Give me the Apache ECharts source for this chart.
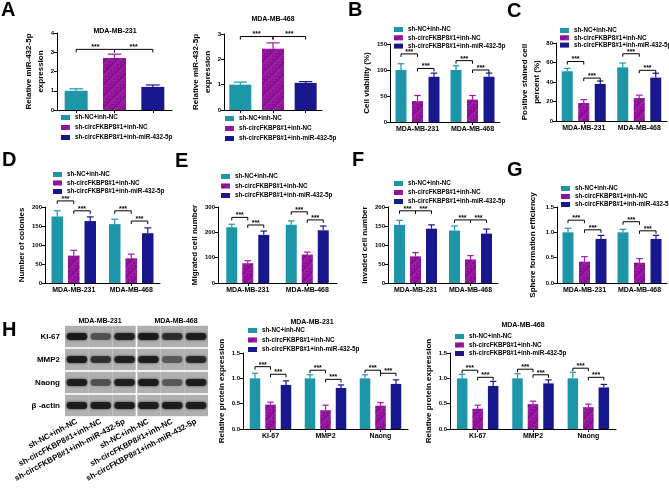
<!DOCTYPE html>
<html><head><meta charset="utf-8">
<script src="https://cdn.jsdelivr.net/npm/echarts@6/dist/echarts.min.js"></script>
<style>html,body{margin:0;padding:0;background:#fff}#c{width:669px;height:491px}</style>
</head><body><div id="c"></div>
<script>
// ---------- data ----------
const groups = ['sh-NC+inh-NC', 'sh-circFKBP8#1+inh-NC', 'sh-circFKBP8#1+inh-miR-432-5p'];
const cells = ['MDA-MB-231', 'MDA-MB-468'];
const proteins = ['KI-67', 'MMP2', 'Naong'];
const colors = ['#1d97a7', '#a21aa9', '#17178e'];

// A: relative miR-432-5p expression (one bar per group)
const a231Mean = [1.0, 2.7, 1.2];
const a231Err  = [1.1, 2.9, 1.3];
const a231Sig  = [[3.15, 3.15]];
const a468Mean = [1.0, 2.42, 1.07];
const a468Err  = [1.1, 2.65, 1.12];
const a468Sig  = [[2.9, 2.9]];

// B: cell viability (group x cell line)
const bMean = [[100, 100], [40, 43], [87, 87]];
const bErr  = [[112, 108], [51, 51], [94, 94]];
const bSig  = [[131, 103], [118, 100]];
// C: positive stained cell percent
const cMean = [[51, 55], [18.5, 23.5], [38, 44.5]];
const cErr  = [[54, 59.5], [22, 26.5], [41, 49]];
const cSig  = [[61, 44], [69, 52]];
// D: number of colonies
const dMean = [[175, 155], [72, 65], [163, 131]];
const dErr  = [[190, 168], [86, 76], [174, 145]];
const dSig  = [[216, 190], [190, 163]];
// E: migrated cell number
const eMean = [[220, 230], [78, 112], [190, 208]];
const eErr  = [[232, 245], [88, 122], [205, 225]];
const eSig  = [[259, 229], [281, 249]];
// F: invaded cell number
const fMean = [[153, 138], [70, 62], [143, 130]];
const fErr  = [[165, 150], [80, 72], [153, 142]];
const fSig  = [[190, 190], [166, 166]];
// G: sphere formation efficiency
const gMean = [[1.0, 1.0], [0.42, 0.40], [0.87, 0.87]];
const gErr  = [[1.08, 1.06], [0.52, 0.48], [0.94, 0.94]];
const gSig  = [[1.24, 1.05], [1.21, 1.03]];
// H: relative protein expression (group x protein)
const h231Mean = [[1.0, 1.0, 1.0], [0.48, 0.37, 0.46], [0.87, 0.81, 0.89]];
const h231Err  = [[1.1, 1.07, 1.07], [0.53, 0.47, 0.52], [0.95, 0.87, 0.97]];
const h231Sig  = [[1.23, 1.08], [1.16, 0.98], [1.16, 1.10]];
const h468Mean = [[1.0, 1.0, 1.0], [0.40, 0.49, 0.43], [0.85, 0.90, 0.82]];
const h468Err  = [[1.08, 1.09, 1.12], [0.47, 0.55, 0.49], [0.94, 0.97, 0.88]];
const h468Sig  = [[1.16, 1.02], [1.18, 1.07], [1.20, 1.02]];

// H: western blot lanes / rows / band intensities
const blotLanes = groups.concat(groups);
const blotRows = ['KI-67', 'MMP2', 'Naong', 'β -actin'];
const blotIntensity = [
  [1.0, 0.45, 0.9, 1.0, 0.75, 0.95],
  [0.95, 0.7, 0.9, 0.95, 0.4, 0.8],
  [0.95, 0.45, 0.9, 1.0, 0.4, 0.95],
  [0.95, 0.95, 0.95, 0.95, 0.95, 0.95]
];

// ---------- build ----------
const FONT = 'Liberation Sans, Arial, sans-serif';
const DECAL = {symbol: 'rect', symbolSize: 1, dashArrayX: [[2, 2], [0, 2, 2]], dashArrayY: [2, 0], rotation: Math.PI / 4, color: 'rgba(70,0,85,0.35)'};
const opt = {animation: false, backgroundColor: '#fff', grid: [], xAxis: [], yAxis: [], series: [], legend: [], graphic: []};

function txt(text, x, y, size, align) {
  opt.graphic.push({type: 'text', x: x, y: y, silent: true, style: {text: text, font: 'bold ' + size + 'px ' + FONT, fill: '#000', align: align || 'center', verticalAlign: 'middle'}});
}

function panel(p) {
  const gi = opt.grid.length;
  const single = !!p.single;
  opt.grid.push({left: p.left, top: p.top, width: p.width, height: p.height, outerBoundsMode: 'none', containLabel: false});
  opt.xAxis.push({type: 'category', gridIndex: gi, data: single ? groups : p.cats,
    axisLine: {lineStyle: {color: '#000', width: 1}},
    axisTick: {show: true, alignWithLabel: true, length: 3, lineStyle: {color: '#000'}},
    axisLabel: {show: !single, fontSize: 7, fontWeight: 'bold', color: '#000', margin: 4, fontFamily: FONT, interval: 0}});
  opt.yAxis.push({type: 'value', gridIndex: gi, min: 0, max: p.max, interval: p.interval,
    name: p.yName, nameLocation: 'middle', nameGap: p.nameGap, nameRotate: 90,
    nameTextStyle: {fontSize: 8, fontWeight: 'bold', color: '#000', fontFamily: FONT, lineHeight: 12},
    axisLine: {show: true, lineStyle: {color: '#000', width: 1}},
    axisTick: {show: true, length: 3, lineStyle: {color: '#000'}},
    splitLine: {show: false},
    axisLabel: {fontSize: 6, fontWeight: 'bold', color: '#000', margin: 3, fontFamily: FONT,
      formatter: p.dec ? (v => v.toFixed(1)) : (v => String(v))}});
  const bw = p.barW, gap = p.gap || 0, step = bw + gap;
  groups.forEach((g, k) => {
    const data = single ? groups.map((_, j) => j === k ? p.mean[k] : '-') : p.mean[k];
    opt.series.push({type: 'bar', name: g, xAxisIndex: gi, yAxisIndex: gi, data: data, barWidth: bw,
      barGap: single ? '-100%' : (gap / bw * 100) + '%', silent: true, z: 2,
      itemStyle: {color: colors[k], decal: k === 1 ? DECAL : null}});
  });
  // error bars
  const errData = [];
  groups.forEach((g, k) => {
    if (single) errData.push([k, p.mean[k], p.err[k], 0, k]);
    else p.mean[k].forEach((m, c) => errData.push([c, m, p.err[k][c], (k - 1) * step, k]));
  });
  opt.series.push({type: 'custom', xAxisIndex: gi, yAxisIndex: gi, data: errData, z: 3, silent: true,
    renderItem: (params, api) => {
      const a = api.coord([api.value(0), api.value(1)]);
      const b = api.coord([api.value(0), api.value(2)]);
      const x = a[0] + api.value(3), col = colors[api.value(4)], cw = Math.max(2.5, bw * 0.3);
      return {type: 'group', children: [
        {type: 'line', shape: {x1: x, y1: a[1], x2: x, y2: b[1]}, style: {stroke: col, lineWidth: 1.2}},
        {type: 'line', shape: {x1: x - cw, y1: b[1], x2: x + cw, y2: b[1]}, style: {stroke: col, lineWidth: 1.2}}]};
    }});
  // significance brackets
  const sigData = [];
  p.sig.forEach((pair, c) => pair.forEach((h, j) => {
    if (single) sigData.push([j, h, j + 1, 0, 0]);
    else sigData.push([c, h, c, (j - 1) * step, j * step]);
  }));
  opt.series.push({type: 'custom', xAxisIndex: gi, yAxisIndex: gi, data: sigData, z: 4, silent: true,
    renderItem: (params, api) => {
      const a = api.coord([api.value(0), api.value(1)]);
      const b = api.coord([api.value(2), api.value(1)]);
      const xl = a[0] + api.value(3), xr = b[0] + api.value(4), y = a[1];
      return {type: 'group', children: [
        {type: 'polyline', shape: {points: [[xl, y + 3], [xl, y], [xr, y], [xr, y + 3]]}, style: {stroke: '#000', lineWidth: 1, fill: null}},
        {type: 'text', style: {text: '***', x: (xl + xr) / 2, y: y + 1.5, align: 'center', verticalAlign: 'bottom', font: 'bold 7px ' + FONT, fill: '#000'}}]};
    }});
  opt.legend.push({left: p.legLeft, top: p.legTop, orient: 'vertical', padding: 0, itemWidth: 9, itemHeight: 5,
    itemGap: p.legGap, selectedMode: false, icon: 'rect', data: groups,
    textStyle: {fontSize: 6.3, fontWeight: 'bold', color: '#000', fontFamily: FONT, lineHeight: 7}});
  if (p.title) txt(p.title, p.titleX, p.titleY, 7);
}

const relMir = 'Relative miR-432-5p\nexpression';
panel({single: true, left: 57, top: 33, width: 115, height: 77, max: 4, interval: 1, yName: relMir, nameGap: 9,
  barW: 23, mean: a231Mean, err: a231Err, sig: a231Sig, legLeft: 61, legTop: 114, legGap: 3,
  title: 'MDA-MB-231', titleX: 115, titleY: 31});
panel({single: true, left: 224, top: 34, width: 98, height: 76, max: 3, interval: 1, yName: relMir, nameGap: 9,
  barW: 22, mean: a468Mean, err: a468Err, sig: a468Sig, legLeft: 225, legTop: 115, legGap: 3,
  title: 'MDA-MB-468', titleX: 273, titleY: 19});
panel({left: 390, top: 44, width: 110, height: 78, max: 150, interval: 50, yName: 'Cell viability (%)', nameGap: 12,
  cats: cells, barW: 11, gap: 5.5, mean: bMean, err: bErr, sig: bSig, legLeft: 394, legTop: 26, legGap: 1.3});
panel({left: 556, top: 43, width: 111, height: 78, max: 80, interval: 20, yName: 'Positive stained cell\npercent (%)', nameGap: 9,
  cats: cells, barW: 11, gap: 5.5, mean: cMean, err: cErr, sig: cSig, legLeft: 560, legTop: 27, legGap: 0.3});
panel({left: 45, top: 207, width: 115, height: 76, max: 200, interval: 50, yName: 'Number of colonies', nameGap: 12,
  cats: cells, barW: 11.5, gap: 5, mean: dMean, err: dErr, sig: dSig, legLeft: 53, legTop: 171, legGap: 1.5});
panel({left: 218, top: 207, width: 119, height: 76, max: 300, interval: 100, yName: 'Migrated cell number', nameGap: 15,
  cats: cells, barW: 11, gap: 5, mean: eMean, err: eErr, sig: eSig, legLeft: 221, legTop: 173, legGap: 2.5});
panel({left: 388, top: 207, width: 110, height: 76, max: 200, interval: 50, yName: 'Invaded cell number', nameGap: 15,
  cats: cells, barW: 11, gap: 5, mean: fMean, err: fErr, sig: fSig, legLeft: 394, legTop: 180, legGap: 2});
panel({left: 557, top: 207, width: 110, height: 76, max: 1.5, interval: 0.5, dec: true, yName: 'Sphere formation efficiency', nameGap: 18,
  cats: cells, barW: 11, gap: 5.5, mean: gMean, err: gErr, sig: gSig, legLeft: 561, legTop: 185, legGap: 1});
panel({left: 243, top: 353, width: 165, height: 76, max: 1.5, interval: 0.5, dec: true, yName: 'Relative protein expression', nameGap: 14,
  cats: proteins, barW: 10.5, gap: 5, mean: h231Mean, err: h231Err, sig: h231Sig, legLeft: 248, legTop: 327, legGap: 2.5,
  title: 'MDA-MB-231', titleX: 312, titleY: 322});
panel({left: 450, top: 353, width: 166, height: 76, max: 1.5, interval: 0.5, dec: true, yName: 'Relative protein expression', nameGap: 13,
  cats: proteins, barW: 10.5, gap: 5, mean: h468Mean, err: h468Err, sig: h468Sig, legLeft: 455, legTop: 333, legGap: 1.5,
  title: 'MDA-MB-468', titleX: 523, titleY: 325});

// western blot panel
(function () {
  const gi = opt.grid.length;
  opt.grid.push({left: 65, top: 325, width: 143, height: 92, outerBoundsMode: 'none', containLabel: false});
  opt.xAxis.push({type: 'category', gridIndex: gi, data: blotLanes, axisLine: {show: false}, axisTick: {show: false},
    axisLabel: {interval: 0, rotate: 28, fontSize: 8, fontWeight: 'bold', color: '#000', margin: 4, fontFamily: FONT}});
  opt.yAxis.push({type: 'category', gridIndex: gi, data: blotRows, inverse: true, axisLine: {show: false}, axisTick: {show: false},
    splitLine: {show: false}, axisLabel: {fontSize: 8, fontWeight: 'bold', color: '#000', margin: 5, fontFamily: FONT}});
  const data = [];
  blotIntensity.forEach((row, r) => row.forEach((v, l) => data.push([l, r, v])));
  opt.series.push({type: 'custom', xAxisIndex: gi, yAxisIndex: gi, data: data, silent: true,
    renderItem: (params, api) => {
      const l = api.value(0), r = api.value(1), v = api.value(2);
      const c = api.coord([l, r]);
      const s = api.size([1, 1]);
      let x0 = c[0] - s[0] / 2, x1 = c[0] + s[0] / 2;
      if (l === 2) x1 -= 0.8;
      if (l === 3) x0 += 0.8;
      const y0 = c[1] - s[1] / 2 + 0.8, y1 = c[1] + s[1] / 2 - 0.8;
      const a = (0.15 + 0.8 * v).toFixed(2);
      return {type: 'group', children: [
        {type: 'rect', shape: {x: x0, y: y0, width: x1 - x0, height: y1 - y0}, style: {fill: '#b0b0b0'}},
        {type: 'rect', shape: {x: c[0] - s[0] * 0.43, y: c[1] - 3.4, width: s[0] * 0.86, height: 6.8, r: 3.4},
          style: {fill: 'rgba(25,25,25,' + a + ')', shadowBlur: 2.5, shadowColor: 'rgba(25,25,25,' + a + ')'}}]};
    }});
  txt('MDA-MB-231', 100, 321, 7);
  txt('MDA-MB-468', 176, 321, 7);
})();

// panel letters
[['A', 1, 10], ['B', 348, 10], ['C', 507, 11], ['D', 2, 160], ['E', 175, 161], ['F', 352, 160], ['G', 507, 170], ['H', 2, 330]]
  .forEach(t => txt(t[0], t[1], t[2], 20, 'left'));

const chart = echarts.init(document.getElementById('c'), null, {renderer: 'canvas'});
chart.setOption(opt);
</script>
</body></html>
